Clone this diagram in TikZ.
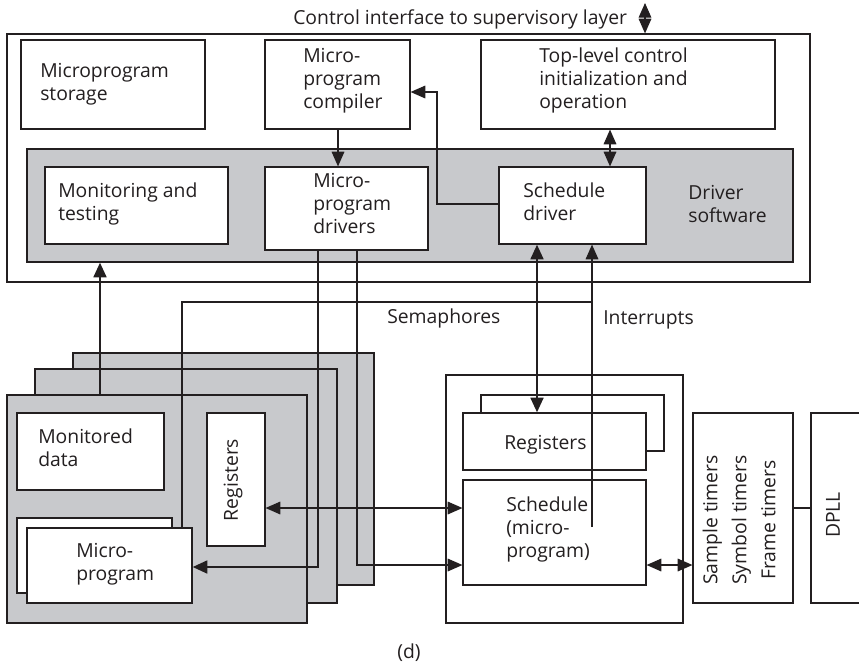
\documentclass[tikz,border=0pt]{standalone}
\usepackage{fontspec}
\setmainfont{Open Sans}
\usetikzlibrary{arrows.meta,fit}
\definecolor{gfill}{RGB}{200,201,204}
\definecolor{ink}{RGB}{35,31,32}
\begin{document}
\begin{tikzpicture}[x=0.75pt,y=-0.75pt,
  box/.style={draw=ink, line width=0.9pt, fill=white, inner sep=0pt},
  gbox/.style={box, fill=gfill},
  txt/.style={font=\fontsize{14.5}{16.9}\selectfont, text=ink, align=left, inner sep=0pt},
  ln/.style={draw=ink, line width=0.8pt},
  thk/.style={draw=ink, line width=2pt},
  arr/.style={-{Triangle[length=11pt,width=9.5pt]}},
  darr/.style={{Triangle[length=11pt,width=9.5pt]}-{Triangle[length=11pt,width=9.5pt]}}]
\useasboundingbox (0,0) rectangle (859,664);

% upper part
\node[box, fit={(7,34)(810,282)}] (outer) {};
\node[box, fit={(21,40)(205,129)}] (store) {};
\node[box, fit={(265,40)(410,129)}] (comp) {};
\node[box, fit={(481,40)(775,129)}] (top) {};
\node[gbox, fit={(27,149)(793,262)}] (drvsw) {};
\node[box, fit={(45,167)(228,244)}] (mon) {};
\node[box, fit={(265,167)(428,250)}] (drv) {};
\node[box, fit={(499,167)(646,244)}] (sdrv) {};

\node[txt, anchor=base west] (tci) at (293,24) {Control interface to supervisory layer};
\node[txt, anchor=base west] (tstore) at (40,100) {Microprogram\\storage};
\node[txt, anchor=base west] (tcomp) at (303,108) {Micro-\\program\\compiler};
\node[txt, anchor=base west] (ttop) at (539,108) {Top-level control\\initialization and\\operation};
\node[txt, anchor=base west] (tmon) at (58,220) {Monitoring and\\testing};
\node[txt, anchor=base west] (tdrv) at (313,233) {Micro-\\program\\drivers};
\node[txt, anchor=base west] (tsdrv) at (523,220) {Schedule\\driver};
\node[txt, anchor=base west] (tdsw) at (688,222) {Driver\\software};

% left stack
\node[gbox, fit={(73,353)(374,585)}] (st3) {};
\node[gbox, fit={(35,369)(337,603)}] (st2) {};
\node[gbox, fit={(7,395)(307,623)}] (st1) {};
\node[box, fit={(17,413)(164,490)}] (mdata) {};
\node[box, fit={(207,413)(265,546)}] (regl) {};
\node[box, fit={(17,518)(172,593)}] (mprogb) {};
\node[box, fit={(27,528)(192,603)}] (mprog) {};

\node[txt, anchor=base west] (tmdata) at (38,466) {Monitored\\data};
\node[txt, rotate=90] (tregl) at (233,480) {Registers};
\node[txt, anchor=base west] (tmprog) at (76,580) {Micro-\\program};

% right part
\node[box, fit={(446,375)(683,623)}] (rbox) {};
\node[box, fit={(481,395)(664,451)}] (regrb) {};
\node[box, fit={(463,413)(646,470)}] (regr) {};
\node[box, fit={(463,480)(646,585)}] (sched) {};
\node[box, fit={(693,413)(793,603)}] (timers) {};
\node[box, fit={(811,413)(875,603)}] (dpll) {};

\node[txt, anchor=base west] (tregr) at (504,449) {Registers};
\node[txt, anchor=base west] (tsched) at (506,557) {Schedule\\(micro-\\program)};
\node[txt, rotate=90, align=center, font=\fontsize{14.5}{21.75}\selectfont] (ttim) at (739,520) {Sample timers\\Symbol timers\\Frame timers};
\node[txt, rotate=90] (tdpll) at (833,515) {DPLL};

\node[txt, anchor=base west] (tsem) at (387,323) {Semaphores};
\node[txt, anchor=base west] (tint) at (603,324) {Interrupts};
\node[txt] (td) at (409,653) {(d)};

% connectors
\coordinate (ciTop) at (645,3);
\draw[ln, darr] (ciTop) -- (645,0 |- outer.north);
\draw[ln, darr] (610,0 |- top.south) -- (610,0 |- sdrv.north);
\draw[ln, arr] (338,0 |- comp.south) -- (338,0 |- drv.north);
\draw[ln, arr] (sdrv.west |- 0,204) -| (437,92) -- (comp.east |- 0,92);
\draw[thk, darr] (537,0 |- sdrv.south) -- (537,0 |- regr.north);
\coordinate (intsrc) at (592,527);
\coordinate (semj) at (592,302);
\draw[ln, arr] (intsrc) -- (592,0 |- sdrv.south);
\draw[ln] (182,0 |- mprog.north) |- (semj);
\draw[thk, arr] (100,0 |- st1.north) -- (100,0 |- drvsw.south);
\draw[thk, arr] (318,0 |- drv.south) |- (mprog.east |- 0,567);
\draw[ln, arr] (357,0 |- drv.south) |- (sched.west |- 0,565);
\draw[ln, darr] (regl.east |- 0,508) -- (sched.west |- 0,508);
\draw[ln, darr] (sched.east |- 0,565) -- (timers.west |- 0,565);
\draw[ln] (timers.east |- 0,508) -- (dpll.west |- 0,508);
\end{tikzpicture}
\end{document}
